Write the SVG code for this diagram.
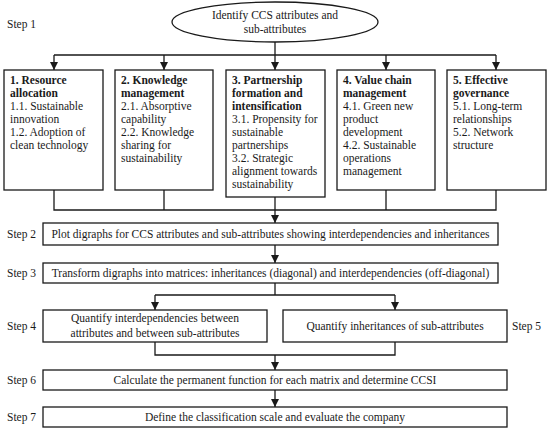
<svg xmlns="http://www.w3.org/2000/svg" width="550" height="432" viewBox="0 0 550 432">
<defs>
<marker id="ah" viewBox="0 0 8 8" refX="8" refY="4" markerWidth="8" markerHeight="8" markerUnits="userSpaceOnUse" orient="auto">
<path d="M0,0 L8,4 L0,8 Z" fill="#1a1a1a"/>
</marker>
<style>
text{font-family:"Liberation Serif","DejaVu Serif",serif;font-size:11.5px;fill:#1a1a1a}
.b{font-weight:bold}
.m{text-anchor:middle}
rect,ellipse{fill:#fff;stroke:#1a1a1a;stroke-width:1.3}
.c path{fill:none;stroke:#1a1a1a;stroke-width:1.3}
.a{marker-end:url(#ah)}
</style>
</defs>
<rect x="0" y="0" width="550" height="432" style="fill:#fff;stroke:none"/>
<g id="labels">
<text x="7" y="28">Step 1</text>
<text x="7" y="238">Step 2</text>
<text x="7" y="277">Step 3</text>
<text x="7" y="330">Step 4</text>
<text x="512" y="330">Step 5</text>
<text x="7" y="384">Step 6</text>
<text x="7" y="421">Step 7</text>
</g>
<g class="c" id="connectors">
<path d="M275,42 V55 M54,55 H496"/>
<path class="a" d="M54,55 V70"/>
<path class="a" d="M164,55 V70"/>
<path class="a" d="M275,55 V70"/>
<path class="a" d="M386,55 V70"/>
<path class="a" d="M496,55 V70"/>
<path d="M54,190 V210 H496 V190 M164,190 V210 M386,190 V210"/>
<path class="a" d="M275,197 V223"/>
<path class="a" d="M275,245 V263"/>
<path d="M275,283 V295 M155,295 H395"/>
<path class="a" d="M155,295 V310"/>
<path class="a" d="M395,295 V310"/>
<path d="M155,342 V355 H395 V342"/>
<path class="a" d="M275,355 V370"/>
<path class="a" d="M275,390 V407"/>
</g>
<g id="start">
<ellipse cx="275" cy="22" rx="103" ry="20"/>
<text class="m" x="275" y="19">Identify CCS attributes and</text>
<text class="m" x="275" y="33">sub-attributes</text>
</g>
<g id="n1">
<rect x="4" y="70" width="99" height="120"/>
<text class="b" x="10" y="84">1. Resource</text>
<text class="b" x="10" y="97">allocation</text>
<text x="10" y="110">1.1. Sustainable</text>
<text x="10" y="123">innovation</text>
<text x="10" y="136">1.2. Adoption of</text>
<text x="10" y="149">clean technology</text>
</g>
<g id="n2">
<rect x="115" y="70" width="98" height="120"/>
<text class="b" x="121" y="84">2. Knowledge</text>
<text class="b" x="121" y="97">management</text>
<text x="121" y="110">2.1. Absorptive</text>
<text x="121" y="123">capability</text>
<text x="121" y="136">2.2. Knowledge</text>
<text x="121" y="149">sharing for</text>
<text x="121" y="162">sustainability</text>
</g>
<g id="n3">
<rect x="226" y="70" width="99" height="127"/>
<text class="b" x="232" y="84">3. Partnership</text>
<text class="b" x="232" y="97">formation and</text>
<text class="b" x="232" y="110">intensification</text>
<text x="232" y="123">3.1. Propensity for</text>
<text x="232" y="136">sustainable</text>
<text x="232" y="149">partnerships</text>
<text x="232" y="162">3.2. Strategic</text>
<text x="232" y="175">alignment towards</text>
<text x="232" y="188">sustainability</text>
</g>
<g id="n4">
<rect x="337" y="70" width="98" height="120"/>
<text class="b" x="343" y="84">4. Value chain</text>
<text class="b" x="343" y="97">management</text>
<text x="343" y="110">4.1. Green new</text>
<text x="343" y="123">product</text>
<text x="343" y="136">development</text>
<text x="343" y="149">4.2. Sustainable</text>
<text x="343" y="162">operations</text>
<text x="343" y="175">management</text>
</g>
<g id="n5">
<rect x="447" y="70" width="99" height="120"/>
<text class="b" x="453" y="84">5. Effective</text>
<text class="b" x="453" y="97">governance</text>
<text x="453" y="110">5.1. Long-term</text>
<text x="453" y="123">relationships</text>
<text x="453" y="136">5.2. Network</text>
<text x="453" y="149">structure</text>
</g>
<g id="s2">
<rect x="43" y="223" width="455" height="22"/>
<text class="m" x="270.5" y="238">Plot digraphs for CCS attributes and sub-attributes showing interdependencies and inheritances</text>
</g>
<g id="s3">
<rect x="43" y="263" width="455" height="20"/>
<text class="m" x="270.5" y="277">Transform digraphs into matrices: inheritances (diagonal) and interdependencies (off-diagonal)</text>
</g>
<g id="s4">
<rect x="43" y="310" width="224" height="32"/>
<text class="m" x="155" y="322">Quantify interdependencies between</text>
<text class="m" x="155" y="337">attributes and between sub-attributes</text>
</g>
<g id="s5">
<rect x="283" y="310" width="224" height="32"/>
<text class="m" x="395" y="330">Quantify inheritances of sub-attributes</text>
</g>
<g id="s6">
<rect x="43" y="370" width="464" height="20"/>
<text class="m" x="275" y="384">Calculate the permanent function for each matrix and determine CCSI</text>
</g>
<g id="s7">
<rect x="43" y="407" width="464" height="20"/>
<text class="m" x="275" y="421">Define the classification scale and evaluate the company</text>
</g>
</svg>
